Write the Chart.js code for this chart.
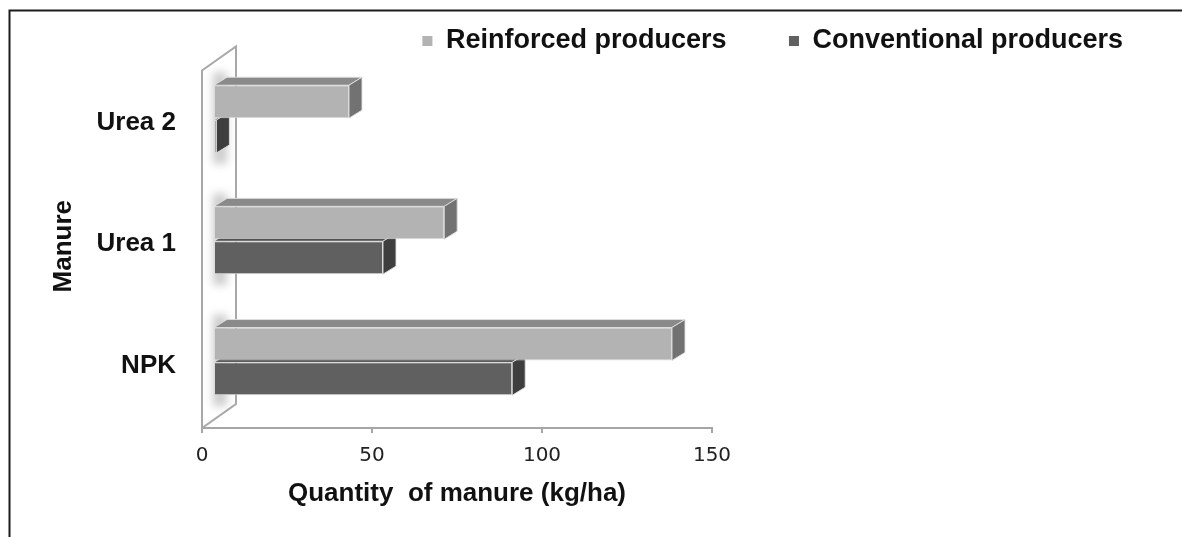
<!DOCTYPE html>
<html>
<head>
<meta charset="utf-8">
<title>Quantity of manure</title>
<script src="https://cdn.jsdelivr.net/npm/chart.js@4/dist/chart.umd.min.js"></script>
<style>
  html, body { margin: 0; padding: 0; background: #fff; }
  #wrap { position: relative; width: 1182px; height: 537px; }
</style>
</head>
<body>
<div id="wrap"><canvas id="chart" width="1182" height="537"></canvas></div>
<script>
// Data
const categories = ['Urea 2', 'Urea 1', 'NPK'];
const seriesNames = ['Reinforced producers', 'Conventional producers'];
const reinforced = [40, 68, 135];
const conventional = [1, 50, 88];
const xTicks = [0, 50, 100, 150];
const xTitle = 'Quantity  of manure (kg/ha)';
const yTitle = 'Manure';

// Styling
const frontColors = ['#b3b3b3', '#606060'];
const topColors = ['#8a8a8a', '#4a4a4a'];
const sideColors = ['#727272', '#3e3e3e'];
const BAR_DEPTH = { dx: 13, dy: -8 };   // extrusion of each bar
const PLANE = { dx: 11, dy: -6 };       // bar plane set back from the axis
const WALL = { dx: 34, dy: -24 };       // depth of the side wall

const boldFont = (size) => ({ family: 'Liberation Sans', size: size, weight: 'bold' });

// Pseudo-3D: side wall, bar shadows, top and side faces of every bar
const depthPlugin = {
  id: 'depth',
  beforeDraw(chart) {
    const ctx = chart.ctx;
    ctx.save();
    ctx.strokeStyle = '#1c1c1c';
    ctx.lineWidth = 2;
    ctx.strokeRect(9.5, 10.5, 1400, 900);
    ctx.restore();
  },
  beforeDatasetsDraw(chart) {
    const { ctx, chartArea: a } = chart;
    // side wall
    const x0 = a.left, yb = a.bottom, yt = a.top + 6;
    ctx.save();
    ctx.fillStyle = '#ffffff';
    ctx.strokeStyle = '#a9a9a9';
    ctx.lineWidth = 2;
    ctx.beginPath();
    ctx.moveTo(x0, yb);
    ctx.lineTo(x0, yt);
    ctx.lineTo(x0 + WALL.dx, yt + WALL.dy);
    ctx.lineTo(x0 + WALL.dx, yb + WALL.dy);
    ctx.closePath();
    ctx.fill();
    ctx.stroke();
    ctx.restore();

    ctx.save();
    ctx.translate(PLANE.dx, PLANE.dy);

    const metas = chart.data.datasets.map((d, i) => chart.getDatasetMeta(i));
    // soft shadow where each group meets the wall
    categories.forEach((c, j) => {
      let top = Infinity, bottom = -Infinity, base = 0;
      metas.forEach(m => {
        const el = m.data[j];
        const p = el.getProps(['y', 'height', 'base'], true);
        top = Math.min(top, p.y - p.height / 2);
        bottom = Math.max(bottom, p.y + p.height / 2);
        base = p.base;
      });
      ctx.save();
      ctx.filter = 'blur(4px)';
      ctx.fillStyle = 'rgba(0,0,0,0.2)';
      ctx.fillRect(base - 1, top - 13, 14, bottom - top + 24);
      ctx.restore();
    });

    // top and side faces (front faces are drawn by Chart.js afterwards)
    metas.forEach((m, i) => {
      m.data.forEach(el => {
        const p = el.getProps(['x', 'y', 'base', 'height'], true);
        const left = Math.min(p.x, p.base), right = Math.max(p.x, p.base);
        const top = p.y - p.height / 2, bottom = p.y + p.height / 2;
        const { dx, dy } = BAR_DEPTH;
        ctx.strokeStyle = 'rgba(225,225,225,0.9)';
        ctx.lineWidth = 1;
        ctx.fillStyle = topColors[i];
        ctx.beginPath();
        ctx.moveTo(left, top);
        ctx.lineTo(right, top);
        ctx.lineTo(right + dx, top + dy);
        ctx.lineTo(left + dx, top + dy);
        ctx.closePath();
        ctx.fill();
        ctx.stroke();
        ctx.fillStyle = sideColors[i];
        ctx.beginPath();
        ctx.moveTo(right, top);
        ctx.lineTo(right + dx, top + dy);
        ctx.lineTo(right + dx, bottom + dy);
        ctx.lineTo(right, bottom);
        ctx.closePath();
        ctx.fill();
        ctx.stroke();
      });
    });
  },
  afterDatasetsDraw(chart) {
    chart.ctx.restore();
  }
};

const datasetBase = {
  borderColor: '#dadada',
  borderWidth: 1,
  borderSkipped: false,
  categoryPercentage: 0.575,
  barPercentage: 0.945,
  clip: false
};

new Chart(document.getElementById('chart'), {
  type: 'bar',
  data: {
    labels: categories,
    datasets: [
      Object.assign({ label: seriesNames[0], data: reinforced, backgroundColor: frontColors[0] }, datasetBase),
      Object.assign({ label: seriesNames[1], data: conventional, backgroundColor: frontColors[1] }, datasetBase)
    ]
  },
  options: {
    indexAxis: 'y',
    responsive: false,
    animation: false,
    devicePixelRatio: 1,
    layout: { padding: { top: 17.5, right: 49, bottom: 0, left: 0 } },
    plugins: {
      tooltip: { enabled: false },
      legend: {
        position: 'top',
        align: 'end',
        labels: {
          boxWidth: 10,
          boxHeight: 10,
          padding: 10,
          color: '#111',
          font: boldFont(27),
          generateLabels(chart) {
            const items = Chart.defaults.plugins.legend.labels.generateLabels(chart);
            items.forEach(it => { it.lineWidth = 0; });
            items[0].text = items[0].text + '       ';
            return items;
          }
        }
      }
    },
    scales: {
      x: {
        type: 'linear',
        position: 'bottom',
        min: 0,
        max: 150,
        afterFit(s) { s.height = 109; },
        afterBuildTicks(s) { s.ticks = xTicks.map(v => ({ value: v })); },
        grid: { display: true, drawOnChartArea: false, drawTicks: true, tickLength: 5, color: '#a6a6a6', lineWidth: 2 },
        border: { display: true, color: '#a6a6a6', width: 2 },
        ticks: { padding: 11, color: '#222', font: { family: 'DejaVu Sans', size: 20 } },
        title: { display: true, text: xTitle, color: '#111', font: boldFont(26), padding: { top: 0, bottom: 27.4 } }
      },
      y: {
        type: 'category',
        position: 'left',
        afterFit(s) { s.width = 202; },
        grid: { display: false, drawTicks: false },
        border: { display: false },
        ticks: { padding: 26, labelOffset: -2, color: '#111', font: boldFont(26) },
        title: { display: true, text: yTitle, color: '#111', font: boldFont(26), padding: { top: 48.4, bottom: 0 } }
      },
      yRight: {
        type: 'linear',
        position: 'right',
        display: true,
        afterFit(s) { s.width = 421; },
        grid: { display: false },
        border: { display: false },
        ticks: { display: false }
      }
    }
  },
  plugins: [depthPlugin]
});
</script>
</body>
</html>
